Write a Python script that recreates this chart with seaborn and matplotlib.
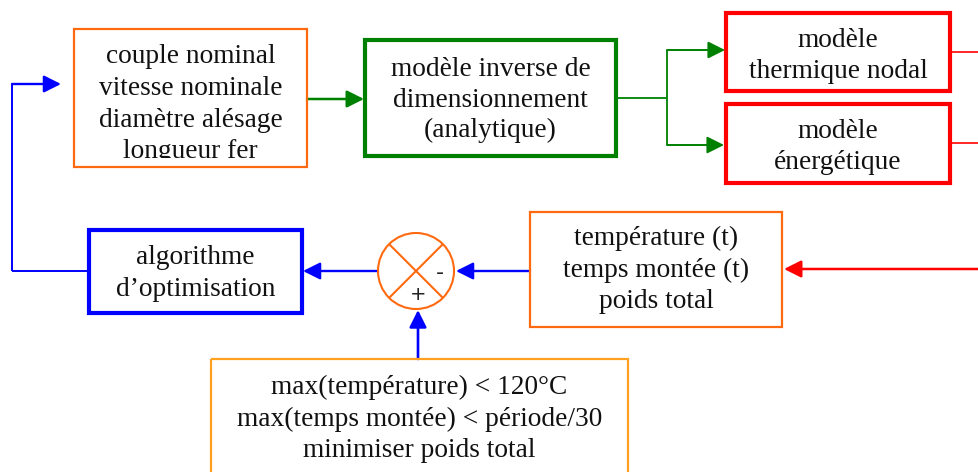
import matplotlib
matplotlib.use("Agg")
import matplotlib.pyplot as plt
import seaborn as sns
from matplotlib.patches import Rectangle, Circle
from matplotlib.transforms import Bbox, TransformedBbox

sns.set_theme(style="white")
plt.rcParams['font.family'] = ['Liberation Serif', 'DejaVu Serif']

# ---- content (text of each block) ----
params_lines = ["couple nominal", "vitesse nominale", "diamètre alésage", "longueur fer"]
inverse_lines = ["modèle inverse de", "dimensionnement", "(analytique)"]
thermal_lines = ["modèle", "thermique nodal"]
energy_lines = ["modèle", "énergétique"]
outputs_lines = ["température (t)", "temps montée (t)", "poids total"]
optim_lines = ["algorithme", "d\u2019optimisation"]
constraint_lines = ["max(température) < 120°C", "max(temps montée) < période/30", "minimiser poids total"]
junction_signs = ["-", "+"]

# ---- layout (pixel coordinates, y downwards) ----
ORANGE = "#FF6A10"
ORANGE2 = "#FFA020"
GREEN = "#008000"
RED = "#FF0000"
BLUE = "#0000FF"
FS = 19.7

blocks = [
    # lines, (x0, y0, x1, y1), edge colour, lw, baselines
    (params_lines, (74, 29, 307, 167), ORANGE, 1.6, [63, 95, 127, 158]),
    (inverse_lines, (365, 40, 616, 156), GREEN, 3.0, [76, 107, 137]),
    (thermal_lines, (726, 13, 950, 91), RED, 3.0, [47, 78]),
    (energy_lines, (726, 104, 950, 183), RED, 3.0, [138, 169]),
    (outputs_lines, (530, 212, 782, 327), ORANGE, 1.6, [245, 277, 308]),
    (optim_lines, (89, 230, 302, 313), BLUE, 3.0, [264, 296]),
    (constraint_lines, (211, 359, 628, 480), ORANGE2, 1.6, [394, 426, 457]),
]

fig = plt.figure(figsize=(9.79, 4.72), dpi=100)
ax = fig.add_axes([0, 0, 1, 1])
ax.set_xlim(0, 979)
ax.set_ylim(472, 0)
ax.axis("off")

for lines, (x0, y0, x1, y1), col, lw, bases in blocks:
    ax.add_patch(Rectangle((x0, y0), x1 - x0, y1 - y0, fill=False,
                           edgecolor=col, lw=lw, zorder=3))
    cx = (x0 + x1) / 2
    for line, yb in zip(lines, bases):
        t = ax.text(cx, yb, line, ha="center", va="baseline", fontsize=FS,
                    color="#111111", zorder=4)
        if lines is params_lines:
            clip = TransformedBbox(Bbox([[x0, y0], [x1, 158]]), ax.transData)
            t.set_clip_box(clip)
            t.set_clip_on(True)


def line(xs, ys, col, lw):
    ax.plot(xs, ys, color=col, lw=lw, solid_capstyle="butt", zorder=2)


def arrow(start, tip, col, lw):
    ax.annotate("", xy=tip, xytext=start,
                arrowprops=dict(arrowstyle="-|>", color=col, lw=lw,
                                mutation_scale=26, shrinkA=0, shrinkB=0),
                zorder=2)

# green connections
arrow((307, 99), (364, 99), GREEN, 1.8)
line([616, 667], [98, 98], GREEN, 1.3)
line([667, 667], [50, 145], GREEN, 1.3)
arrow((667, 50), (725, 50), GREEN, 1.4)
arrow((667, 145), (724, 145), GREEN, 1.4)

# red lines
line([950, 979], [52, 52], RED, 1.2)
line([950, 979], [143, 143], RED, 1.2)
arrow((979, 269), (784, 269), RED, 1.8)

# summing junction
cx, cy, r = 416, 271, 38
ax.add_patch(Circle((cx, cy), r, fill=False, edgecolor=ORANGE, lw=1.5, zorder=3))
d = r * 0.7071
line([cx - d, cx + d], [cy - d, cy + d], ORANGE, 1.5)
line([cx - d, cx + d], [cy + d, cy - d], ORANGE, 1.5)
ax.text(440, 273, junction_signs[0], ha="center", va="center", fontsize=16,
        color="#222222", family="DejaVu Sans", zorder=4)
ax.text(418, 295, junction_signs[1], ha="center", va="center", fontsize=14,
        color="#222222", family="DejaVu Sans", zorder=4)

# blue connections
arrow((530, 271), (456, 271), BLUE, 1.7)
arrow((378, 271), (303, 271), BLUE, 1.7)
arrow((418, 359), (418, 310), BLUE, 1.9)
line([89, 12], [271, 271], BLUE, 1.4)
line([12, 12], [271, 84], BLUE, 1.4)
arrow((12, 84), (61, 84), BLUE, 1.7)

fig.savefig("out.png", dpi=100, facecolor="white")
